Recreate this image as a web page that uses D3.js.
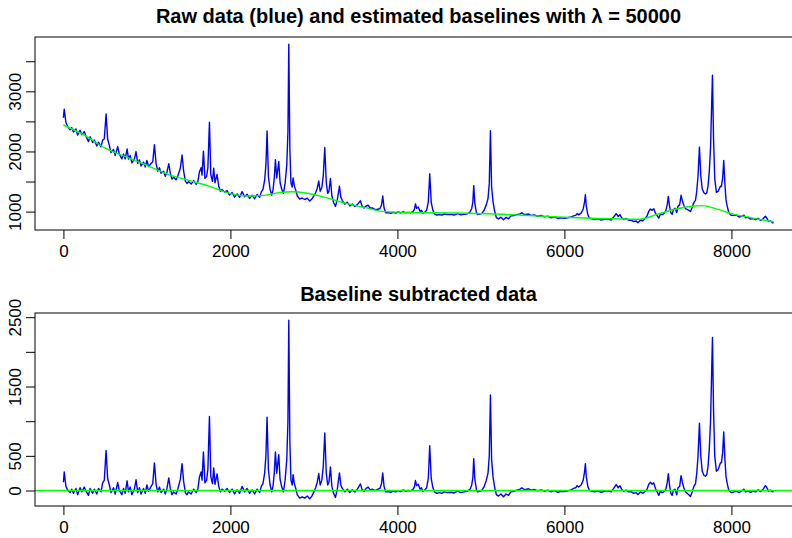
<!DOCTYPE html>
<html>
<head>
<meta charset="utf-8">
<script src="https://cdn.jsdelivr.net/npm/d3@7"></script>
<style>
  body { margin: 0; background: #fff; }
  svg { display: block; }
</style>
</head>
<body>
<div id="chart"></div>
<script>
// Raman shift grid shared by the raw and the corrected spectra
const shift = [
  0, 10, 30, 50, 80, 100, 120, 150, 170, 200,
  220, 250, 270, 300, 320, 350, 370, 400, 420, 450,
  470, 490, 511, 530, 550, 570, 600, 620, 650, 670,
  700, 720, 740, 763, 780, 800, 820, 850, 870, 890,
  910, 930, 960, 980, 1000, 1020, 1050, 1070, 1090, 1110,
  1130, 1150, 1170, 1200, 1220, 1240, 1262, 1280, 1300, 1320,
  1350, 1370, 1400, 1421, 1440, 1460, 1480, 1500, 1530, 1560,
  1590, 1610, 1630, 1649, 1660, 1677, 1695, 1715, 1730, 1749,
  1765, 1785, 1800, 1815, 1840, 1860, 1880, 1900, 1930, 1960,
  1990, 2020, 2050, 2080, 2110, 2140, 2170, 2200, 2230, 2260,
  2290, 2320, 2350, 2370, 2390, 2410, 2425, 2439, 2455, 2475,
  2495, 2510, 2525, 2539, 2555, 2579, 2595, 2615, 2635, 2655,
  2675, 2689, 2699, 2712, 2725, 2740, 2751, 2765, 2785, 2800,
  2830, 2860, 2890, 2920, 2950, 2975, 3000, 3020, 3040, 3058,
  3075, 3095, 3112, 3130, 3148, 3165, 3180, 3198, 3215, 3235,
  3258, 3280, 3306, 3322, 3340, 3370, 3400, 3430, 3460, 3490,
  3520, 3557, 3575, 3600, 3625, 3650, 3675, 3700, 3730, 3760,
  3790, 3810, 3824, 3840, 3860, 3890, 3920, 3950, 3980, 4010,
  4040, 4070, 4100, 4130, 4160, 4190, 4205, 4216, 4230, 4250,
  4270, 4287, 4305, 4330, 4350, 4370, 4387, 4405, 4425, 4445,
  4470, 4500, 4530, 4560, 4600, 4640, 4680, 4720, 4760, 4800,
  4840, 4870, 4890, 4903, 4914, 4927, 4945, 4960, 4985, 5010,
  5040, 5065, 5085, 5100, 5114, 5128, 5145, 5165, 5185, 5210,
  5240, 5270, 5300, 5330, 5360, 5400, 5440, 5470, 5490, 5510,
  5540, 5570, 5600, 5640, 5680, 5720, 5760, 5800, 5840, 5880,
  5920, 5960, 6000, 6040, 6080, 6110, 6135, 6152, 6170, 6200,
  6225, 6240, 6251, 6262, 6280, 6300, 6330, 6360, 6400, 6440,
  6480, 6520, 6560, 6590, 6620, 6645, 6665, 6685, 6710, 6740,
  6770, 6800, 6830, 6860, 6880, 6910, 6940, 6970, 6990, 7010,
  7030, 7050, 7070, 7090, 7110, 7130, 7150, 7170, 7190, 7215,
  7232, 7245, 7258, 7275, 7290, 7305, 7325, 7345, 7360, 7380,
  7397, 7412, 7430, 7450, 7470, 7490, 7509, 7530, 7550, 7570,
  7585, 7600, 7617, 7633, 7650, 7670, 7689, 7705, 7720, 7735,
  7750, 7763, 7773, 7785, 7800, 7820, 7840, 7855, 7868, 7880,
  7895, 7908, 7920, 7935, 7950, 7965, 7980, 8000, 8030, 8060,
  8090, 8120, 8150, 8170, 8200, 8230, 8260, 8290, 8320, 8350,
  8380, 8407, 8425, 8445, 8470, 8490, 8505
];

const rawIntensity = [
  2560, 2703, 2481, 2418, 2359, 2396, 2323, 2374, 2271, 2352,
  2279, 2330, 2252, 2164, 2246, 2148, 2190, 2092, 2154, 2076,
  2188, 2210, 2623, 2203, 2102, 1981, 2034, 1933, 2081, 1955,
  1878, 1957, 1876, 2043, 1873, 1932, 1811, 1874, 1998, 1802,
  1860, 1759, 1822, 1741, 1850, 1748, 1800, 1828, 2114, 1794,
  1672, 1730, 1638, 1670, 1588, 1656, 1797, 1638, 1540, 1572,
  1530, 1592, 1720, 1940, 1674, 1506, 1468, 1500, 1458, 1516,
  1454, 1496, 1668, 1729, 1606, 2005, 1552, 1584, 1728, 2488,
  1613, 1503, 1722, 1479, 1617, 1427, 1338, 1368, 1324, 1349,
  1275, 1316, 1240, 1294, 1238, 1332, 1246, 1290, 1221, 1273,
  1214, 1286, 1237, 1328, 1370, 1522, 1776, 2339, 1584, 1369,
  1274, 1358, 1551, 1861, 1559, 1832, 1479, 1371, 1302, 1473,
  1775, 2326, 3784, 2028, 1479, 1409, 1560, 1428, 1345, 1263,
  1209, 1226, 1201, 1224, 1175, 1208, 1260, 1314, 1388, 1508,
  1338, 1402, 1595, 2067, 1481, 1304, 1338, 1551, 1264, 1156,
  1087, 1198, 1422, 1241, 1184, 1124, 1154, 1094, 1125, 1085,
  1116, 1180, 1098, 1060, 1093, 1106, 1059, 1062, 1034, 1040,
  1047, 1111, 1261, 1063, 980, 983, 972, 986, 975, 994,
  977, 1001, 980, 988, 982, 1005, 1045, 1129, 1055, 1075,
  1004, 1024, 974, 993, 1023, 1162, 1629, 1152, 1022, 961,
  941, 951, 941, 960, 950, 954, 943, 967, 946, 955,
  964, 993, 1052, 1152, 1432, 1141, 990, 950, 959, 968,
  1027, 1116, 1216, 1465, 2343, 1413, 1162, 1001, 900, 878,
  907, 865, 903, 881, 929, 936, 954, 962, 981, 959,
  952, 960, 938, 945, 922, 935, 912, 924, 896, 913,
  886, 898, 890, 898, 911, 930, 938, 967, 946, 975,
  1044, 1153, 1280, 1092, 951, 890, 878, 867, 880, 859,
  873, 877, 861, 910, 966, 919, 949, 898, 868, 882,
  856, 860, 835, 844, 816, 857, 848, 890, 928, 1005,
  1043, 1021, 1048, 976, 934, 892, 960, 948, 966, 1016,
  1123, 1252, 1093, 980, 956, 1031, 1057, 983, 1087, 1112,
  1272, 1181, 1106, 1051, 1037, 1022, 1001, 1068, 1150, 1192,
  1344, 1595, 2069, 1598, 1380, 1313, 1293, 1311, 1427, 1672,
  2067, 2763, 3268, 2256, 1550, 1321, 1335, 1379, 1421, 1418,
  1562, 1850, 1501, 1195, 1088, 1002, 966, 937, 938, 939,
  911, 922, 943, 897, 904, 875, 883, 865, 887, 854,
  881, 924, 890, 835, 843, 813, 814
];

const correctedIntensity = [
  120, 269, 60, 10, -30, 20, -40, 30, -60, 40,
  -20, 50, -10, -70, 30, -40, 20, -50, 30, -20,
  110, 150, 579, 170, 80, -30, 40, -50, 115, 0,
  -60, 30, -40, 140, -20, 50, -60, 20, 155, -30,
  40, -50, 30, -40, 80, -10, 60, 100, 398, 90,
  -20, 50, -30, 20, -50, 30, 182, 30, -60, -20,
  -50, 20, 160, 388, 130, -30, -60, -20, -50, 20,
  -30, 20, 200, 269, 150, 556, 110, 150, 300, 1068,
  200, 100, 326, 90, 240, 60, -20, 20, -10, 30,
  -30, 20, -50, 10, -40, 60, -20, 30, -40, 10,
  -50, 20, -30, 60, 100, 250, 500, 1059, 300, 80,
  -20, 60, 250, 556, 250, 517, 160, 50, -20, 150,
  450, 1000, 2457, 700, 150, 80, 230, 100, 20, -60,
  -110, -90, -110, -80, -120, -80, -20, 40, 120, 245,
  80, 150, 350, 829, 250, 80, 120, 340, 60, -40,
  -100, 20, 254, 80, 30, -20, 20, -30, 10, -20,
  20, 96, 20, -10, 30, 50, 10, 20, 0, 15,
  30, 100, 254, 60, -20, -15, -25, -10, -20, 0,
  -15, 10, -10, 0, -5, 20, 60, 144, 70, 90,
  20, 40, -10, 10, 40, 180, 647, 170, 40, -20,
  -40, -30, -40, -20, -30, -25, -35, -10, -30, -20,
  -10, 20, 80, 180, 460, 170, 20, -20, -10, 0,
  60, 150, 250, 500, 1379, 450, 200, 40, -60, -80,
  -50, -90, -50, -70, -20, -10, 10, 20, 40, 20,
  15, 25, 5, 15, -5, 10, -10, 5, -20, 0,
  -25, -10, -15, -5, 10, 30, 40, 70, 50, 80,
  150, 260, 388, 200, 60, 0, -10, -20, -5, -25,
  -10, -5, -20, 30, 86, 40, 70, 20, -10, 5,
  -20, -15, -40, -30, -57, -20, -40, -10, 20, 90,
  120, 90, 110, 30, -20, -70, -10, -30, -20, 20,
  120, 244, 80, -40, -70, 0, 20, -60, 40, 60,
  215, 120, 40, -20, -40, -60, -85, -20, 60, 100,
  250, 500, 972, 500, 280, 220, 206, 230, 350, 600,
  1000, 1700, 2208, 1200, 500, 278, 300, 350, 398, 400,
  550, 843, 500, 200, 100, 20, -10, -30, -20, -10,
  -30, -10, 20, -20, -5, -25, -10, -20, 10, -15,
  20, 70, 40, -10, 5, -20, -15
];

// estimated baseline (green), read at a coarser set of shifts
const baseShift = [
  0, 250, 500, 750, 1000, 1250, 1500, 1750, 2000, 2200, 2400,
  2600, 2750, 2900, 3100, 3350, 3600, 3850, 4200, 4700, 5100,
  5500, 6000, 6400, 6900, 7100, 7300, 7500, 7650, 7830, 8000, 8230, 8505
];
const baselineValues = [
  2440, 2270, 2055, 1910, 1770, 1620, 1520, 1420, 1300, 1260, 1270,
  1320, 1330, 1310, 1250, 1150, 1070, 1000, 985, 978, 965,
  940, 905, 885, 873, 950, 1030, 1085, 1100, 1040, 967, 900, 829
];

const xTicks = [0, 2000, 4000, 6000, 8000];
const rawTicks = [1000, 1500, 2000, 2500, 3000, 3500];
const rawTickLabels = [1000, 2000, 3000];
const corrTicks = [0, 500, 1000, 1500, 2000, 2500];
const corrTickLabels = [0, 500, 1500, 2500];

const width = 792;
const height = 538;
const plotLeft = 35;
const plotRight = 802;
const fontFamily = '"Liberation Sans", Arial, Helvetica, sans-serif';

// R pads the data range by 4% on each side
function padExtent(values) {
  const [lo, hi] = d3.extent(values);
  const p = (hi - lo) * 0.04;
  return [lo - p, hi + p];
}

const svg = d3.select("#chart").append("svg")
  .attr("width", width)
  .attr("height", height)
  .style("font-family", fontFamily);

const x = d3.scaleLinear().domain(padExtent(shift)).range([plotLeft, plotRight]);

function drawPanel(opt) {
  const y = d3.scaleLinear().domain(padExtent(opt.values)).range([opt.bottom, opt.top]);
  const g = svg.append("g");

  g.append("clipPath")
    .attr("id", opt.id + "-clip")
    .append("rect")
    .attr("x", plotLeft)
    .attr("y", opt.top)
    .attr("width", plotRight - plotLeft)
    .attr("height", opt.bottom - opt.top);

  const plot = g.append("g").attr("clip-path", `url(#${opt.id}-clip)`);

  const line = d3.line()
    .x((d, i) => x(shift[i]))
    .y((d) => y(d));

  plot.append("path")
    .datum(opt.values)
    .attr("d", line)
    .attr("fill", "none")
    .attr("stroke", "#0000ff")
    .attr("stroke-width", 1.4)
    .attr("stroke-linejoin", "round");

  opt.overlay(plot, y);

  g.append("rect")
    .attr("x", plotLeft)
    .attr("y", opt.top)
    .attr("width", plotRight - plotLeft)
    .attr("height", opt.bottom - opt.top)
    .attr("fill", "none")
    .attr("stroke", "#000")
    .attr("stroke-width", 1);

  const xAxis = g.append("g")
    .attr("transform", `translate(0,${opt.bottom})`)
    .call(d3.axisBottom(x).tickValues(xTicks).tickSize(9).tickPadding(6).tickSizeOuter(0).tickFormat(d3.format("d")));
  xAxis.select(".domain").remove();

  const yAxis = g.append("g")
    .attr("transform", `translate(${plotLeft},0)`)
    .call(d3.axisLeft(y).tickValues(opt.ticks).tickSize(9).tickSizeOuter(0)
      .tickFormat((d) => opt.labels.includes(d) ? String(d) : ""));
  yAxis.select(".domain").remove();
  yAxis.selectAll("text")
    .attr("x", 0)
    .attr("y", -14)
    .attr("dy", null)
    .attr("text-anchor", "middle")
    .attr("transform", "rotate(-90)");

  [xAxis, yAxis].forEach((a) => {
    a.attr("font-family", fontFamily).attr("font-size", 17);
    a.selectAll("line").attr("stroke", "#000");
    a.selectAll("text").attr("fill", "#000");
  });

  g.append("text")
    .attr("x", (plotLeft + plotRight) / 2)
    .attr("y", opt.titleY)
    .attr("text-anchor", "middle")
    .attr("font-size", 20)
    .attr("font-weight", "bold")
    .text(opt.title);
}

drawPanel({
  id: "raw",
  top: 37,
  bottom: 230,
  titleY: 23,
  title: "Raw data (blue) and estimated baselines with \u03bb = 50000",
  values: rawIntensity,
  ticks: rawTicks,
  labels: rawTickLabels,
  overlay: (plot, y) => {
    const baseLine = d3.line()
      .x((d, i) => x(baseShift[i]))
      .y((d) => y(d))
      .curve(d3.curveMonotoneX);
    plot.append("path")
      .datum(baselineValues)
      .attr("d", baseLine)
      .attr("fill", "none")
      .attr("stroke", "#00ff00")
      .attr("stroke-width", 1.4);
  }
});

drawPanel({
  id: "corr",
  top: 313,
  bottom: 506,
  titleY: 301,
  title: "Baseline subtracted data",
  values: correctedIntensity,
  ticks: corrTicks,
  labels: corrTickLabels,
  overlay: (plot, y) => {
    plot.append("line")
      .attr("x1", plotLeft)
      .attr("x2", plotRight)
      .attr("y1", y(0))
      .attr("y2", y(0))
      .attr("stroke", "#00ff00")
      .attr("stroke-width", 1.4);
  }
});
</script>
</body>
</html>
